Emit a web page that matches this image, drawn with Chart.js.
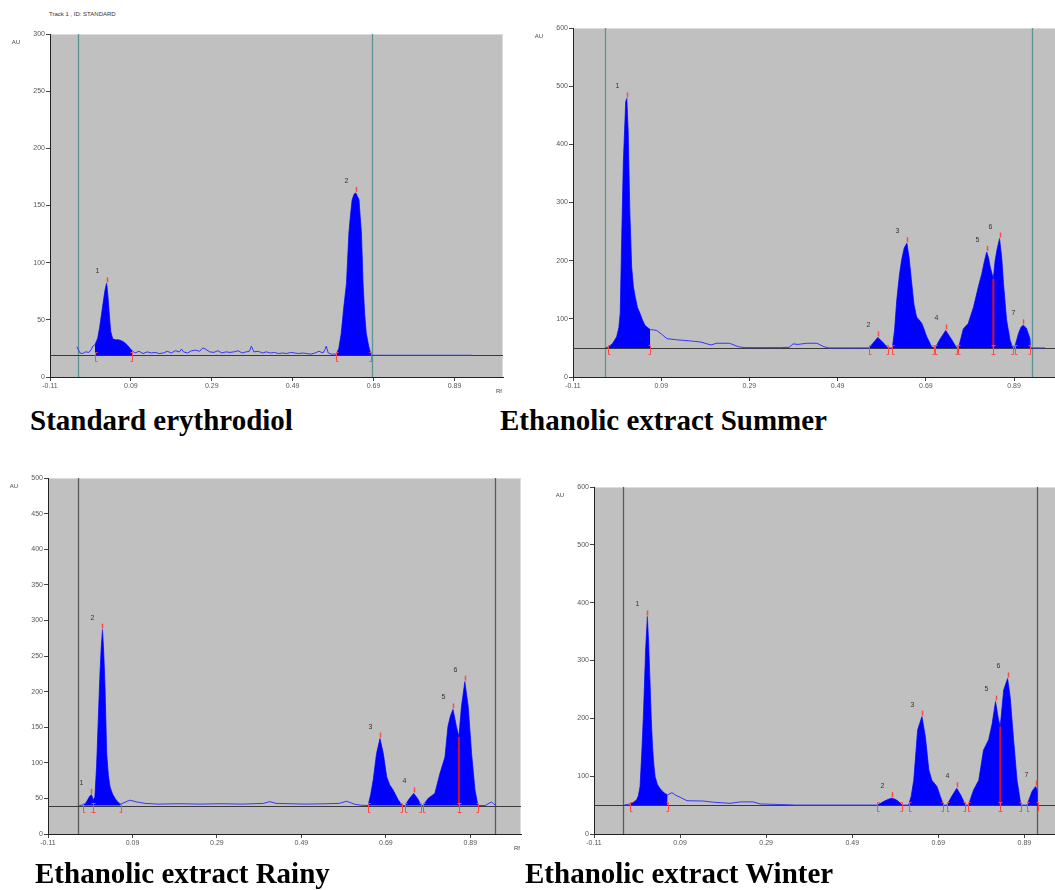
<!DOCTYPE html>
<html lang="en">
<head>
  <meta charset="UTF-8" />
  <title>HPTLC erythrodiol</title>
  <script src="https://cdn.jsdelivr.net/npm/chart.js"></script>
  <style>
    * { box-sizing: border-box; margin: 0; padding: 0; }
    html, body { width: 1055px; height: 890px; overflow: hidden; background: #fff; }
    body { position: relative; font-family: 'Liberation Sans', sans-serif; }
    canvas { position: absolute; }
    .cap { position: absolute; font-family: 'Liberation Serif', 'Times New Roman', serif; font-weight: bold; font-size: 29px; line-height: 29px; color: #000; white-space: nowrap; }
    .track { position: absolute; left: 49px; top: 11px; font-size: 6px; color: #333; }
  </style>
</head>
<body>
  <div class="track">Track 1 , ID: STANDARD</div>
  <canvas id="c1" width="520" height="400" style="left:0;top:0;"></canvas>
  <canvas id="c2" width="560" height="400" style="left:520px;top:0;"></canvas>
  <canvas id="c3" width="540" height="400" style="left:0;top:460px;"></canvas>
  <canvas id="c4" width="550" height="400" style="left:540px;top:460px;"></canvas>
  <div class="cap" style="left:30px;top:406px;">Standard erythrodiol</div>
  <div class="cap" style="left:500px;top:406px;">Ethanolic extract Summer</div>
  <div class="cap" style="left:35px;top:859px;">Ethanolic extract Rainy</div>
  <div class="cap" style="left:525px;top:859px;">Ethanolic extract Winter</div>

  <script>
    // x axis (Rf) tick labels, shared by all tracks
    const rfTicks = [-0.11, 0.09, 0.29, 0.49, 0.69, 0.89];

    // Standard erythrodiol
    const stdRf = [-0.043, -0.040, -0.036, -0.030, -0.022, -0.014, -0.008, -0.004, 0.001, 0.008, 0.013, 0.021, 0.026, 0.030, 0.033, 0.036, 0.040, 0.045, 0.052, 0.060, 0.068, 0.075, 0.082, 0.088, 0.093, 0.100, 0.110, 0.120, 0.130, 0.140, 0.150, 0.160, 0.170, 0.180, 0.190, 0.200, 0.210, 0.215, 0.220, 0.230, 0.240, 0.250, 0.260, 0.268, 0.276, 0.285, 0.295, 0.305, 0.315, 0.325, 0.335, 0.345, 0.355, 0.365, 0.375, 0.383, 0.388, 0.394, 0.405, 0.415, 0.425, 0.435, 0.445, 0.455, 0.465, 0.475, 0.485, 0.495, 0.505, 0.515, 0.525, 0.535, 0.545, 0.555, 0.565, 0.570, 0.573, 0.578, 0.585, 0.592, 0.598, 0.604, 0.610, 0.616, 0.623, 0.629, 0.633, 0.637, 0.642, 0.646, 0.650, 0.654, 0.657, 0.660, 0.664, 0.668, 0.672, 0.678, 0.684, 0.700, 0.800, 0.935];
    const stdAU = [26.5, 24, 21, 20.5, 22, 21.5, 24, 27, 28, 34, 44, 64, 76, 82, 72, 58, 40, 33.5, 32.5, 32.5, 31.5, 30, 27.5, 25, 23, 21, 22.5, 20.5, 22, 21, 21.5, 20.5, 21, 22.5, 21, 23, 22, 24.5, 22, 21, 23, 23.5, 22.5, 25.5, 24, 22, 21.5, 23, 21, 22, 21.5, 22, 23, 21, 22, 22.5, 27, 22, 22.5, 21, 22, 21, 21.5, 20.5, 21, 20.5, 21.5, 21, 20.5, 21, 20.5, 20, 21, 22.5, 21, 24, 27, 21, 20, 20, 20, 25, 38, 60, 82, 126, 142, 155, 160, 161, 158, 155, 140, 126, 82, 55, 38, 27, 19, 19, 19, 19];
    const stdPeakStart = [0.001, 0.598];
    const stdPeakEnd = [0.093, 0.684];
    const stdPeakApex = [0.030, 0.646];
    const stdPeakAU = [82, 161];
    const stdBase = 19;
    const stdFront = [-0.040, 0.686];

    // Ethanolic extract Summer
    const sumRf = [-0.037, -0.030, -0.020, -0.011, -0.006, -0.003, 0.000, 0.004, 0.0095, 0.012, 0.015, 0.019, 0.023, 0.027, 0.031, 0.036, 0.042, 0.048, 0.053, 0.059, 0.065, 0.072, 0.080, 0.090, 0.103, 0.125, 0.157, 0.180, 0.203, 0.215, 0.245, 0.265, 0.280, 0.300, 0.330, 0.360, 0.380, 0.389, 0.400, 0.420, 0.443, 0.459, 0.470, 0.500, 0.530, 0.560, 0.570, 0.581, 0.592, 0.604, 0.609, 0.614, 0.619, 0.624, 0.630, 0.635, 0.641, 0.647, 0.652, 0.658, 0.663, 0.669, 0.675, 0.681, 0.687, 0.692, 0.698, 0.703, 0.709, 0.711, 0.722, 0.735, 0.748, 0.760, 0.764, 0.770, 0.775, 0.786, 0.798, 0.809, 0.817, 0.823, 0.828, 0.832, 0.836, 0.843, 0.847, 0.851, 0.857, 0.862, 0.866, 0.873, 0.881, 0.887, 0.891, 0.900, 0.906, 0.911, 0.918, 0.926, 0.928, 0.960];
    const sumAU = [50, 51.6, 58, 69, 85, 109, 224, 367, 473, 479, 424, 281, 189, 155, 138, 120, 109, 97, 89, 85, 81.5, 81, 80, 74, 66, 64, 62, 60, 55, 58, 58, 52, 50.5, 50.5, 50.5, 50.5, 51, 57, 56, 58, 58, 52, 50, 50, 50, 50, 58, 68, 60, 50, 50, 50, 80, 132, 175, 201, 222, 230, 205, 161, 125, 103, 98, 92, 80, 69, 60, 52, 50, 50, 65, 80, 65, 50, 50, 68, 83, 92, 120, 155, 178, 200, 215, 205, 189, 169, 200, 218, 238, 205, 161, 98, 63, 50, 50, 75, 86, 89, 84, 66, 50, 50];
    const sumPeakStart = [-0.030, 0.560, 0.614, 0.711, 0.764, 0.843, 0.891];
    const sumPeakEnd = [0.065, 0.604, 0.709, 0.760, 0.843, 0.887, 0.926];
    const sumPeakApex = [0.012, 0.581, 0.647, 0.735, 0.828, 0.857, 0.911];
    const sumPeakAU = [479, 68, 230, 80, 215, 238, 89];
    const sumSplit = [0.843, 169];
    const sumBase = 50;
    const sumFront = [-0.037, 0.930];

    // Ethanolic extract Rainy
    const rainRf = [-0.036, -0.026, -0.020, -0.015, -0.010, -0.007, -0.003, 0.001, 0.005, 0.009, 0.013, 0.016, 0.019, 0.022, 0.025, 0.029, 0.033, 0.037, 0.043, 0.049, 0.055, 0.062, 0.070, 0.084, 0.100, 0.120, 0.150, 0.200, 0.250, 0.300, 0.350, 0.400, 0.415, 0.430, 0.500, 0.550, 0.580, 0.597, 0.615, 0.630, 0.648, 0.654, 0.660, 0.668, 0.676, 0.684, 0.692, 0.699, 0.707, 0.719, 0.729, 0.735, 0.746, 0.756, 0.765, 0.774, 0.778, 0.790, 0.806, 0.818, 0.830, 0.837, 0.843, 0.849, 0.857, 0.863, 0.869, 0.877, 0.885, 0.893, 0.901, 0.908, 0.925, 0.940, 0.950];
    const rainAU = [40, 41, 44, 49, 54, 55, 48, 52, 95, 160, 225, 262, 287, 255, 207, 113, 82, 66, 56, 50, 45, 42, 44, 47.5, 45, 43, 42, 42.5, 42, 42.5, 42, 43, 45.5, 43, 42, 42.5, 43, 46, 42, 40.5, 40, 55, 76, 113, 134, 113, 80, 69, 62, 48, 40, 40, 50, 57, 50, 40, 40, 50, 57, 85, 108, 151, 166, 175, 151, 136.5, 179, 214, 179, 113, 62, 40, 40, 45, 40];
    const rainPeakStart = [-0.026, -0.003, 0.648, 0.735, 0.778, 0.863];
    const rainPeakEnd = [-0.003, 0.062, 0.729, 0.774, 0.863, 0.908];
    const rainPeakApex = [-0.007, 0.019, 0.676, 0.756, 0.849, 0.877];
    const rainPeakAU = [55, 287, 134, 57, 175, 214];
    const rainSplit = [0.863, 136.5];
    const rainBase = 40;
    const rainFront = [-0.038, 0.948];

    // Ethanolic extract Winter
    const winRf = [-0.040, -0.026, -0.018, -0.011, -0.007, -0.003, 0.001, 0.005, 0.010, 0.014, 0.017, 0.020, 0.023, 0.026, 0.029, 0.032, 0.037, 0.043, 0.049, 0.055, 0.061, 0.071, 0.080, 0.090, 0.106, 0.144, 0.167, 0.206, 0.230, 0.260, 0.276, 0.323, 0.360, 0.450, 0.547, 0.556, 0.565, 0.574, 0.582, 0.590, 0.598, 0.606, 0.621, 0.627, 0.633, 0.642, 0.652, 0.660, 0.668, 0.675, 0.687, 0.695, 0.702, 0.710, 0.722, 0.733, 0.743, 0.753, 0.760, 0.772, 0.784, 0.795, 0.807, 0.815, 0.823, 0.830, 0.834, 0.842, 0.851, 0.857, 0.865, 0.873, 0.882, 0.896, 0.902, 0.908, 0.916, 0.921];
    const winAU = [50, 52, 55, 59, 66, 82, 140, 209, 320, 376, 330, 266, 200, 151, 120, 99, 86, 79, 74, 70, 67.5, 71.5, 67, 63.5, 57.6, 57, 55, 53, 55.5, 55.5, 52, 51, 50, 50, 50, 53, 57, 60, 62, 60, 56, 50, 50, 65, 93, 180, 203, 168, 111, 93, 82, 64.5, 50, 50, 66, 79, 66, 50, 50, 76, 93, 145, 163, 190, 229, 197, 186, 249, 269, 237.5, 163, 93, 50, 50, 62, 74, 82, 74];
    const winPeakStart = [-0.026, 0.547, 0.621, 0.710, 0.760, 0.834, 0.896];
    const winPeakEnd = [0.061, 0.606, 0.702, 0.753, 0.834, 0.882, 0.921];
    const winPeakApex = [0.014, 0.582, 0.652, 0.733, 0.823, 0.851, 0.916];
    const winPeakAU = [376, 62, 203, 79, 229, 269, 82];
    const winSplit = [0.834, 186];
    const winBase = 50;
    const winFront = [-0.042, 0.920];

    const RED = '#ff4a4a';

    const chroma = {
      id: 'chroma',
      beforeDraw(chart, args, o) {
        const { ctx, chartArea: a } = chart;
        ctx.save();
        ctx.fillStyle = '#c0c0c0';
        ctx.fillRect(a.left, a.top, a.right - a.left, a.bottom - a.top);
        ctx.strokeStyle = '#dcdcdc';
        ctx.lineWidth = 1;
        ctx.beginPath();
        ctx.moveTo(a.left, a.top + 0.5);
        ctx.lineTo(a.right - 0.5, a.top + 0.5);
        ctx.lineTo(a.right - 0.5, a.bottom);
        ctx.stroke();
        ctx.restore();
      },
      beforeDatasetsDraw(chart, args, o) {
        const { ctx, chartArea: a, scales: { x, y } } = chart;
        ctx.save();
        ctx.strokeStyle = o.frontColor;
        ctx.lineWidth = 1.3;
        o.front.forEach(v => {
          const px = Math.round(x.getPixelForValue(v)) + 0.5;
          ctx.beginPath(); ctx.moveTo(px, a.top); ctx.lineTo(px, a.bottom); ctx.stroke();
        });
        const by = Math.round(y.getPixelForValue(o.base)) + 0.5;
        ctx.strokeStyle = '#3a3a3a';
        ctx.lineWidth = 1;
        ctx.beginPath(); ctx.moveTo(a.left, by); ctx.lineTo(a.right, by); ctx.stroke();
        ctx.restore();
      },
      afterDatasetsDraw(chart, args, o) {
        const { ctx, scales: { x, y } } = chart;
        const by = Math.round(y.getPixelForValue(o.base)) + 0.5;
        ctx.save();
        if (o.split) {
          const sx = x.getPixelForValue(o.split[0]);
          ctx.strokeStyle = '#d4102a';
          ctx.lineWidth = 2;
          ctx.beginPath(); ctx.moveTo(sx, by); ctx.lineTo(sx, y.getPixelForValue(o.split[1])); ctx.stroke();
        }
        ctx.strokeStyle = RED;
        ctx.lineWidth = 1;
        const bracket = (v, dir) => {
          const px = Math.round(x.getPixelForValue(v)) + 0.5;
          ctx.beginPath();
          ctx.moveTo(px + 2 * dir, by - 3);
          ctx.lineTo(px, by - 3);
          ctx.lineTo(px, by + 6);
          ctx.lineTo(px + 2 * dir, by + 6);
          ctx.stroke();
        };
        o.start.forEach(v => bracket(v, 1));
        o.end.forEach(v => bracket(v, -1));
        ctx.font = '7px "Liberation Sans", sans-serif';
        ctx.textAlign = 'center';
        ctx.textBaseline = 'middle';
        o.apex.forEach((v, i) => {
          const px = Math.round(x.getPixelForValue(v)) + 0.5;
          const py = y.getPixelForValue(o.top[i]);
          ctx.strokeStyle = RED;
          ctx.lineWidth = 1.5;
          ctx.beginPath(); ctx.moveTo(px, py - 1); ctx.lineTo(px, py - 6); ctx.stroke();
          ctx.fillStyle = '#333';
          ctx.fillText(String(i + 1), px - 10, py - 12);
        });
        ctx.restore();
      },
      afterDraw(chart) {
        const { ctx, chartArea: a } = chart;
        ctx.save();
        ctx.fillStyle = '#444';
        ctx.font = '6px "Liberation Sans", sans-serif';
        ctx.textAlign = 'center';
        ctx.textBaseline = 'middle';
        ctx.fillText('AU', a.left - 34, a.top + 8);
        ctx.fillText('Rf', a.right - 4, a.bottom + 14);
        ctx.restore();
      }
    };

    function makeTrack(id, rf, au, peaks, yMax, yStep, pad, extra) {
      const trace = rf.map((v, i) => ({ x: v, y: au[i] }));
      const filled = rf.map((v, i) => ({
        x: v,
        y: peaks.start.some((s, k) => v >= s && v <= peaks.end[k]) ? au[i] : null
      }));
      const tickFont = { size: 7, family: 'Liberation Sans' };
      return new Chart(document.getElementById(id), {
        type: 'line',
        data: {
          datasets: [
            { data: filled, borderWidth: 0, borderColor: '#0000ff', backgroundColor: '#0000ff',
              fill: { value: extra.base }, pointRadius: 0, spanGaps: false, tension: 0 },
            { data: trace, borderWidth: 1, borderColor: '#3535ff', fill: false, pointRadius: 0, tension: 0 }
          ]
        },
        options: {
          responsive: false,
          animation: false,
          events: [],
          layout: { padding: pad },
          scales: {
            x: {
              type: 'linear', min: -0.11, max: 1.01,
              afterBuildTicks: s => { s.ticks = rfTicks.map(v => ({ value: v })); },
              afterFit: s => { s.height = 18; },
              ticks: { callback: v => v.toFixed(2), font: tickFont, color: '#555', maxRotation: 0, autoSkip: false, padding: 1 },
              grid: { drawOnChartArea: false, drawTicks: true, tickLength: 4, color: '#444' },
              border: { display: true, color: '#222', width: 1 }
            },
            y: {
              min: 0, max: yMax,
              afterFit: s => { s.width = 30; },
              ticks: { stepSize: yStep, font: tickFont, color: '#555', padding: 1 },
              grid: { drawOnChartArea: false, drawTicks: true, tickLength: 4, color: '#444' },
              border: { display: true, color: '#222', width: 1 }
            }
          },
          plugins: {
            legend: { display: false },
            tooltip: { enabled: false },
            chroma: Object.assign({ start: peaks.start, end: peaks.end, apex: peaks.apex, top: peaks.top }, extra)
          }
        },
        plugins: [chroma]
      });
    }

    makeTrack('c1', stdRf, stdAU,
      { start: stdPeakStart, end: stdPeakEnd, apex: stdPeakApex, top: stdPeakAU }, 300, 50,
      { left: 20, top: 34, right: 17, bottom: 5 },
      { base: stdBase, front: stdFront, frontColor: '#5e9494', split: null });

    makeTrack('c2', sumRf, sumAU,
      { start: sumPeakStart, end: sumPeakEnd, apex: sumPeakApex, top: sumPeakAU }, 600, 100,
      { left: 23, top: 28, right: 13, bottom: 5 },
      { base: sumBase, front: sumFront, frontColor: '#5e9494', split: sumSplit });

    makeTrack('c3', rainRf, rainAU,
      { start: rainPeakStart, end: rainPeakEnd, apex: rainPeakApex, top: rainPeakAU }, 500, 50,
      { left: 18, top: 18, right: 19, bottom: 8 },
      { base: rainBase, front: rainFront, frontColor: '#5a5a5a', split: rainSplit });

    makeTrack('c4', winRf, winAU,
      { start: winPeakStart, end: winPeakEnd, apex: winPeakApex, top: winPeakAU }, 600, 100,
      { left: 24, top: 27, right: 14, bottom: 8 },
      { base: winBase, front: winFront, frontColor: '#5a5a5a', split: winSplit });
  </script>
</body>
</html>
